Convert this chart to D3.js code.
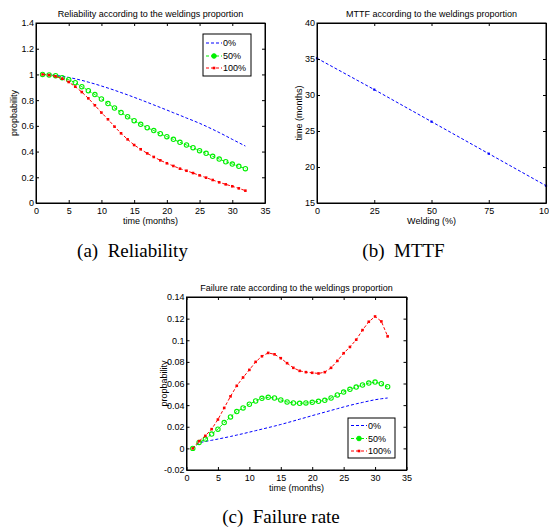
<!DOCTYPE html>
<html><head><meta charset="utf-8">
<script src="https://cdn.jsdelivr.net/npm/d3@7"></script>
<style>body{margin:0;background:#fff}text{font-family:"Liberation Sans",Arial,sans-serif}</style>
</head><body>
<svg id="c" width="549" height="529"></svg>
<script>
// ---------- DATA ----------
const seriesNames = ["0%", "50%", "100%"];
const months = [1,2,3,4,5,6,7,8,9,10,11,12,13,14,15,16,17,18,19,20,21,22,23,24,25,26,27,28,29,30,31,32];

const rel0   = [1.0,0.998,0.993,0.986,0.977,0.966,0.954,0.94,0.926,0.91,0.894,0.877,0.859,0.841,0.822,0.803,0.783,0.763,0.743,0.723,0.702,0.682,0.661,0.641,0.62,0.597,0.573,0.548,0.522,0.495,0.469,0.443];
const rel50  = [1.0,0.996,0.99,0.975,0.959,0.936,0.905,0.874,0.843,0.809,0.773,0.739,0.703,0.671,0.64,0.612,0.586,0.563,0.539,0.516,0.495,0.472,0.451,0.43,0.407,0.386,0.363,0.342,0.321,0.303,0.285,0.267];
const rel100 = [1.0,0.995,0.985,0.967,0.941,0.905,0.863,0.814,0.76,0.703,0.651,0.594,0.542,0.495,0.451,0.418,0.386,0.358,0.332,0.309,0.288,0.267,0.251,0.233,0.215,0.197,0.179,0.161,0.145,0.13,0.114,0.096];

const weldingPct = [0, 25, 50, 75, 100];
const mttf = [35.1, 30.75, 26.3, 21.85, 17.4];

const fr0   = [0,0.0052,0.0064,0.0075,0.0086,0.0098,0.011,0.0123,0.0136,0.015,0.0164,0.0178,0.0192,0.0206,0.0221,0.0237,0.0253,0.027,0.0286,0.0303,0.0319,0.0335,0.0351,0.0367,0.0383,0.0398,0.0412,0.0425,0.0438,0.045,0.0459,0.0466];
const fr50  = [0,0.0055,0.0086,0.0132,0.0178,0.0239,0.0291,0.034,0.0374,0.0408,0.0438,0.0463,0.0472,0.0466,0.0448,0.0429,0.042,0.0417,0.042,0.0426,0.0435,0.0444,0.0466,0.0494,0.0521,0.0546,0.0567,0.0586,0.0604,0.0613,0.0598,0.057];
const fr100 = [0,0.0067,0.0116,0.0178,0.0267,0.0374,0.0481,0.0579,0.0656,0.0726,0.08,0.0852,0.0883,0.087,0.0834,0.0788,0.0745,0.0717,0.0705,0.0699,0.0693,0.0705,0.0745,0.0809,0.088,0.0938,0.1005,0.1094,0.1171,0.122,0.1174,0.1036];

const relXTicks = [0,5,10,15,20,25,30,35];
const relYTicks = [0,0.2,0.4,0.6,0.8,1,1.2,1.4];
const mttfXTicks = [0,25,50,75,100];
const mttfYTicks = [15,20,25,30,35,40];
const frXTicks = [0,5,10,15,20,25,30,35];
const frYTicks = [-0.02,0,0.02,0.04,0.06,0.08,0.1,0.12,0.14];

const captions = ["(a)  Reliability", "(b)  MTTF", "(c)  Failure rate"];

// ---------- STYLES ----------
const colors = {"0%":"#0000ff","50%":"#00f000","100%":"#ff0000"};
const markers = {"0%":"none","50%":"circle","100%":"dot"};

const svg = d3.select("#c");

function drawMarker(g, type, cx, cy, color){
  if(type==="circle"){
    g.append("circle").attr("cx",cx).attr("cy",cy).attr("r",2.2)
      .attr("fill","none").attr("stroke",color).attr("stroke-width",1.1);
  } else if(type==="dot"){
    g.append("rect").attr("x",cx-1.3).attr("y",cy-1.3).attr("width",2.6).attr("height",2.6)
      .attr("fill",color);
  } else if(type==="smalldot"){
    g.append("rect").attr("x",cx-1.1).attr("y",cy-1.1).attr("width",2.2).attr("height",2.2)
      .attr("fill",color);
  }
}

function panel(o){
  const x = d3.scaleLinear().domain(o.xDomain).range([o.x0,o.x1]);
  const y = d3.scaleLinear().domain(o.yDomain).range([o.y1,o.y0]);
  const g = svg.append("g");
  const fmt = d => String(+d.toFixed(2));

  // series
  o.series.forEach(s=>{
    const line = d3.line().x((d,i)=>x(s.xs[i])).y(d=>y(d));
    g.append("path").datum(s.ys).attr("d",line).attr("fill","none")
      .attr("stroke",s.color).attr("stroke-width",1).attr("stroke-dasharray","3,2");
    if(s.marker!=="none"){
      s.ys.forEach((v,i)=>drawMarker(g,s.marker,x(s.xs[i]),y(v),s.color));
    }
  });

  // axes (ticks inward, box)
  const tl = 3;
  const bottom = g.append("g").attr("transform",`translate(0,${o.y1})`)
    .call(d3.axisBottom(x).tickValues(o.xTicks).tickFormat(fmt).tickSizeInner(-tl).tickSizeOuter(0).tickPadding(4.5));
  const left = g.append("g").attr("transform",`translate(${o.x0},0)`)
    .call(d3.axisLeft(y).tickValues(o.yTicks).tickFormat(fmt).tickSizeInner(-tl).tickSizeOuter(0).tickPadding(2));
  const top = g.append("g").attr("transform",`translate(0,${o.y0})`)
    .call(d3.axisTop(x).tickValues(o.xTicks).tickFormat("").tickSizeInner(-tl).tickSizeOuter(0));
  const right = g.append("g").attr("transform",`translate(${o.x1},0)`)
    .call(d3.axisRight(y).tickValues(o.yTicks).tickFormat("").tickSizeInner(-tl).tickSizeOuter(0));
  [bottom,left,top,right].forEach(a=>{
    a.selectAll("path,line").attr("stroke","#000").attr("stroke-width",1);
    a.selectAll("text").attr("font-size",9).attr("fill","#000").style("font-family","'Liberation Sans',Arial,sans-serif");
  });
  g.append("rect").attr("x",o.x0).attr("y",o.y0).attr("width",o.x1-o.x0).attr("height",o.y1-o.y0)
    .attr("fill","none").attr("stroke","#000").attr("stroke-width",1);

  // title & labels
  g.append("text").attr("x",(o.x0+o.x1)/2).attr("y",o.y0-6).attr("text-anchor","middle")
    .attr("font-size",9).text(o.title);
  g.append("text").attr("x",(o.x0+o.x1)/2).attr("y",o.y1+21).attr("text-anchor","middle")
    .attr("font-size",9).text(o.xLabel);
  g.append("text").attr("transform",`translate(${o.yLabelX},${(o.y0+o.y1)/2}) rotate(-90)`)
    .attr("text-anchor","middle").attr("dy","0.35em").attr("font-size",9).text(o.yLabel);

  // legend
  if(o.legend){
    const L = o.legend;
    const lg = g.append("g");
    lg.append("rect").attr("x",L.x).attr("y",L.y).attr("width",L.w).attr("height",L.h)
      .attr("fill","#fff").attr("stroke","#000").attr("stroke-width",1);
    o.series.forEach((s,i)=>{
      const yy = L.y + L.rowY[i];
      lg.append("line").attr("x1",L.x+3).attr("x2",L.x+19).attr("y1",yy).attr("y2",yy)
        .attr("stroke",s.color).attr("stroke-width",1).attr("stroke-dasharray","3,2");
      if(s.marker!=="none"){
        if(s.marker==="circle"){
          lg.append("circle").attr("cx",L.x+11).attr("cy",yy).attr("r",2.3)
            .attr("fill",s.color).attr("stroke",s.color);
        } else drawMarker(lg,s.marker,L.x+11,yy,s.color);
      }
      lg.append("text").attr("x",L.x+20).attr("y",yy).attr("dy","0.35em")
        .attr("font-size",9).text(s.name);
    });
  }
}

const mk = (ys)=>seriesNames.map((n,i)=>({name:n,xs:months,ys:ys[i],color:colors[n],marker:markers[n]}));

panel({x0:36,x1:265,y0:23,y1:203,xDomain:[0,35],yDomain:[0,1.4],xTicks:relXTicks,yTicks:relYTicks,
  title:"Reliability according to the weldings proportion",xLabel:"time (months)",yLabel:"propbability",yLabelX:14,
  series:mk([rel0,rel50,rel100]),legend:{x:203,y:34,w:48,h:42,rowY:[9,22,34]}});

panel({x0:317,x1:546,y0:23,y1:203,xDomain:[0,100],yDomain:[15,40],xTicks:mttfXTicks,yTicks:mttfYTicks,
  title:"MTTF according to the weldings proportion",xLabel:"Welding (%)",yLabel:"time (months)",yLabelX:299,
  series:[{name:"MTTF",xs:weldingPct,ys:mttf,color:"#0000ff",marker:"smalldot"}]});

panel({x0:186.5,x1:406.5,y0:297,y1:470,xDomain:[0,35],yDomain:[-0.02,0.14],xTicks:frXTicks,yTicks:frYTicks,
  title:"Failure rate according to the weldings proportion",xLabel:"time (months)",yLabel:"propbability",yLabelX:164,
  series:mk([fr0,fr50,fr100]),legend:{x:348,y:418,w:47,h:40,rowY:[7.5,20.5,33]}});

// captions
const capPos = [[132.5,257],[403.5,257],[281,523]];
captions.forEach((c,i)=>{
  svg.append("text").attr("x",capPos[i][0]).attr("y",capPos[i][1]).attr("text-anchor","middle")
    .style("font-family","'Liberation Serif','Times New Roman',serif").style("white-space","pre")
    .attr("font-size",19).text(c);
});
</script>
</body></html>
